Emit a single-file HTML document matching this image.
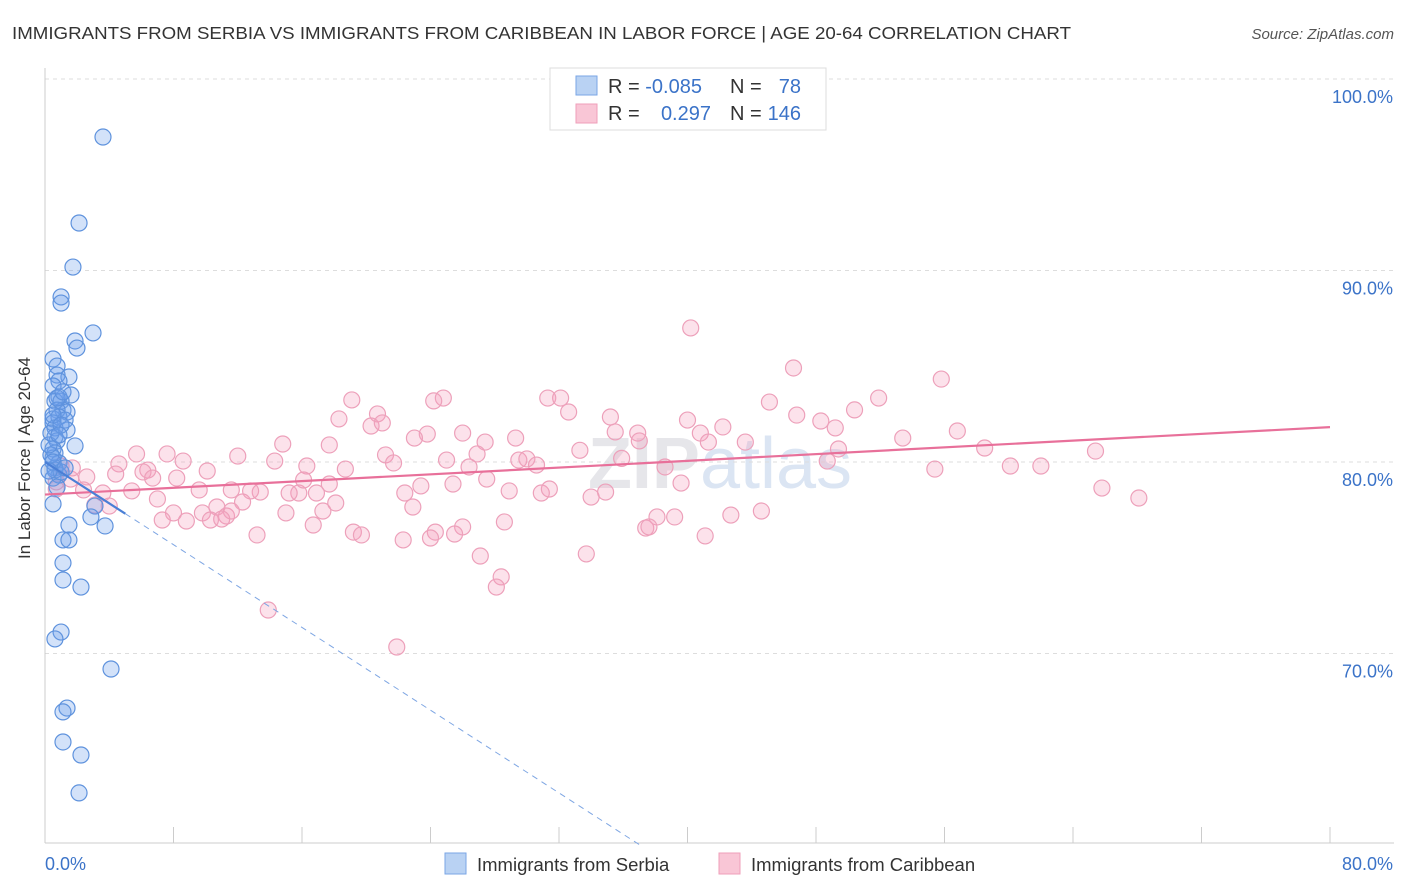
<!DOCTYPE html>
<html><head><meta charset="utf-8"><style>
body{margin:0;background:#fff;font-family:"Liberation Sans",sans-serif;}
svg{display:block}
</style></head><body>
<svg id="chart" width="1406" height="892" xmlns="http://www.w3.org/2000/svg">
<text x="12" y="39" font-size="17.5" fill="#333" textLength="1059" lengthAdjust="spacingAndGlyphs">IMMIGRANTS FROM SERBIA VS IMMIGRANTS FROM CARIBBEAN IN LABOR FORCE | AGE 20-64 CORRELATION CHART</text>
<text x="1394" y="39" font-size="15" fill="#555" font-style="italic" text-anchor="end">Source: ZipAtlas.com</text>
<text x="720" y="488" font-size="72" fill="#e6e6ea" text-anchor="middle" font-weight="bold">ZIP<tspan fill="#dbe5f3" font-weight="normal">atlas</tspan></text>
<g id="grid"></g><g id="axes"></g><g id="pts"></g><g id="lines"></g>
<text x="30" y="458" font-size="17" fill="#333" text-anchor="middle" transform="rotate(-90 30 458)">In Labor Force | Age 20-64</text>
<text x="45" y="870" font-size="18" fill="#3b73c8">0.0%</text>
<text x="1393" y="870" font-size="18" fill="#3b73c8" text-anchor="end">80.0%</text>
<g>
<rect x="550" y="68" width="276" height="62" fill="#fff" stroke="#ddd"/>
<rect x="576" y="76" width="21" height="19" fill="#b9d2f3" stroke="#7aa6e6"/>
<rect x="576" y="104" width="21" height="19" fill="#f9c6d6" stroke="#ef9fba"/>
<text x="608" y="93" font-size="20" fill="#333">R = <tspan fill="#3b73c8">-0.085</tspan></text>
<text x="730" y="93" font-size="20" fill="#333">N = </text><text x="801" y="93" font-size="20" fill="#3b73c8" text-anchor="end">78</text>
<text x="608" y="120" font-size="20" fill="#333">R = </text><text x="711" y="120" font-size="20" fill="#3b73c8" text-anchor="end">0.297</text>
<text x="730" y="120" font-size="20" fill="#333">N = </text><text x="801" y="120" font-size="20" fill="#3b73c8" text-anchor="end">146</text>
</g>
<g>
<rect x="445" y="853" width="21" height="21" fill="#b9d2f3" stroke="#7aa6e6"/>
<text x="477" y="871" font-size="18.5" fill="#333">Immigrants from Serbia</text>
<rect x="719" y="853" width="21" height="21" fill="#f9c6d6" stroke="#ef9fba"/>
<text x="751" y="871" font-size="18.5" fill="#333">Immigrants from Caribbean</text>
</g>
</svg>
<script>
const yTicks=[100,90,80,70];
const yTickLabels=["100.0%","90.0%","80.0%","70.0%"];
const xTicks=[0,8,16,24,32,40,48,56,64,72,80];
const serbiaX=[3.61,2.12,1.74,1.0,1.0,2.99,1.87,1.99,0.5,0.75,0.75,1.49,0.87,0.5,1.62,0.87,0.62,1.0,1.12,1.37,0.75,0.5,0.87,1.25,0.5,0.62,1.37,0.62,0.75,1.87,0.5,0.62,0.5,0.87,0.62,0.87,0.5,0.75,3.11,0.5,2.86,1.49,3.74,1.12,1.49,1.12,1.12,2.24,1.0,0.62,4.11,1.37,1.12,1.12,2.24,2.12,0.62,1.0,0.37,0.25,0.37,0.5,0.75,1.12,1.0,0.87,0.5,0.25,1.25];
const serbiaY=[96.97,92.48,90.18,88.62,88.3,86.74,86.32,85.95,85.38,85.01,84.54,84.44,84.23,83.97,83.5,83.39,83.18,83.18,82.71,82.61,82.71,82.25,82.35,82.19,82.04,81.78,81.67,81.31,81.1,80.84,80.68,80.47,80.21,79.95,79.69,79.32,79.16,78.69,77.7,77.81,77.13,76.71,76.66,75.93,75.93,74.73,73.84,73.47,71.12,70.76,69.19,67.15,66.95,65.38,64.7,62.72,79.58,79.48,80.37,80.89,81.51,82.45,83.34,83.66,81.93,81.41,80.0,79.53,79.69];
const caribX=[40.2,46.6,55.8,19.1,24.8,24.2,31.3,32.1,51.9,45.1,50.4,32.6,35.2,40.0,46.8,20.7,18.3,48.3,20.3,21.0,26.0,35.5,42.2,49.2,56.8,23.8,23.0,29.3,36.9,53.4,40.8,37.0,41.3,43.6,14.8,17.7,27.4,33.3,35.9,49.4,58.5,65.4,5.7,7.6,12.0,21.2,25.0,21.7,26.9,29.5,30.0,30.6,48.7,14.3,16.3,4.6,6.4,8.6,10.1,18.7,26.4,38.6,62.0,55.4,60.1,6.1,4.4,6.7,8.2,2.6,1.6,1.7,1.0,0.7,2.4,5.4,3.6,13.4,11.6,9.6,12.8,15.8,15.2,16.9,17.7,16.1,23.4,22.4,25.4,27.5,28.9,30.9,31.4,34.0,34.9,39.6,65.8,68.1,0.7,7.0,12.3,18.1,10.7,22.9,3.1,4.0,8.0,9.8,11.3,11.6,15.0,17.3,11.0,8.8,7.3,10.3,16.7,26.0,28.6,24.3,44.6,42.7,39.2,38.1,37.4,37.6,13.2,19.2,19.7,22.3,24.0,25.5,41.1,27.1,33.7,28.4,28.1,13.9,21.9];
const caribY=[87.0,84.91,84.33,83.24,83.34,83.19,83.34,83.34,83.34,83.13,82.72,82.61,82.35,82.19,82.45,82.51,82.25,82.14,81.88,82.04,81.51,81.57,81.83,81.78,81.62,81.46,81.25,81.25,81.51,81.25,81.51,81.1,81.04,81.04,80.94,80.89,81.04,80.61,80.19,80.68,80.73,80.57,80.42,80.42,80.31,80.37,80.1,79.95,80.42,80.1,80.16,79.84,80.05,80.05,79.79,79.9,79.58,80.05,79.53,79.63,79.74,79.74,79.79,79.63,79.79,79.48,79.37,79.16,79.16,79.22,79.11,79.69,79.79,78.96,78.54,78.49,78.38,78.43,78.54,78.54,78.49,78.38,78.38,78.38,78.85,79.06,78.75,78.38,78.85,79.11,78.49,78.38,78.59,78.17,78.43,78.9,78.64,78.12,78.59,78.07,77.91,77.86,77.65,77.65,77.75,77.7,77.34,77.34,77.18,77.44,77.34,77.44,77.02,76.92,76.97,76.97,76.71,76.61,76.87,76.34,77.44,77.23,77.13,77.13,76.55,76.61,76.19,76.34,76.19,75.93,76.03,76.24,76.14,75.09,75.2,74.0,73.47,72.27,70.34];
const serbiaTrend=[80.0,-0.54];
const caribTrend=[78.3,0.044];
const X=v=>45+v*16.0625;
const Y=v=>79+(100-v)*19.15;
const NS="http://www.w3.org/2000/svg";
function mk(tag,attrs,parent){const e=document.createElementNS(NS,tag);for(const k in attrs)e.setAttribute(k,attrs[k]);document.getElementById(parent).appendChild(e);return e;}
yTicks.forEach((t,i)=>{
 const l=mk('line',{x1:45,x2:1394,y1:Y(t),y2:Y(t),stroke:'#ddd','stroke-dasharray':'4,4'},'grid');
 
 
 const tx=mk('text',{x:1393,y:Y(t)+24,'font-size':18,fill:'#3b73c8','text-anchor':'end','font-family':'Liberation Sans'},'grid');
 tx.textContent=yTickLabels[i];
 
 
});
const ax=mk('line',{x1:45,x2:1394,y1:843,y2:843,stroke:'#ccc'},'axes');


const ay=mk('line',{x1:45,x2:45,y1:68,y2:843,stroke:'#ccc'},'axes');


xTicks.forEach(t=>{const l=mk('line',{x1:X(t),x2:X(t),y1:827,y2:843,stroke:'#ccc'},'axes');
 
 });
caribX.forEach((x,i)=>{const c=mk('circle',{cx:X(x),cy:Y(caribY[i]),r:8,fill:'rgba(244,160,188,0.3)',stroke:'#eda0ba','stroke-width':1.2},'pts');
 
 });
serbiaX.forEach((x,i)=>{const c=mk('circle',{cx:X(x),cy:Y(serbiaY[i]),r:8,fill:'rgba(110,160,235,0.3)',stroke:'#5e92dd','stroke-width':1.2},'pts');
 
 });
const cl=mk('line',{x1:X(0),y1:Y(caribTrend[0]),x2:X(80),y2:Y(caribTrend[0]+80*caribTrend[1]),stroke:'#e8709a','stroke-width':2.2},'lines');


const sl=mk('line',{x1:X(0),y1:Y(serbiaTrend[0]),x2:X(5),y2:Y(serbiaTrend[0]+5*serbiaTrend[1]),stroke:'#4a7fd6','stroke-width':2.2},'lines');


const xe=(60-serbiaTrend[0])/serbiaTrend[1]*-1;
const sd=mk('line',{x1:X(5),y1:Y(serbiaTrend[0]+5*serbiaTrend[1]),x2:X(-xe),y2:Y(60),stroke:'#7ea6e3','stroke-width':1,'stroke-dasharray':'6,5'},'lines');


</script>
</body></html>
